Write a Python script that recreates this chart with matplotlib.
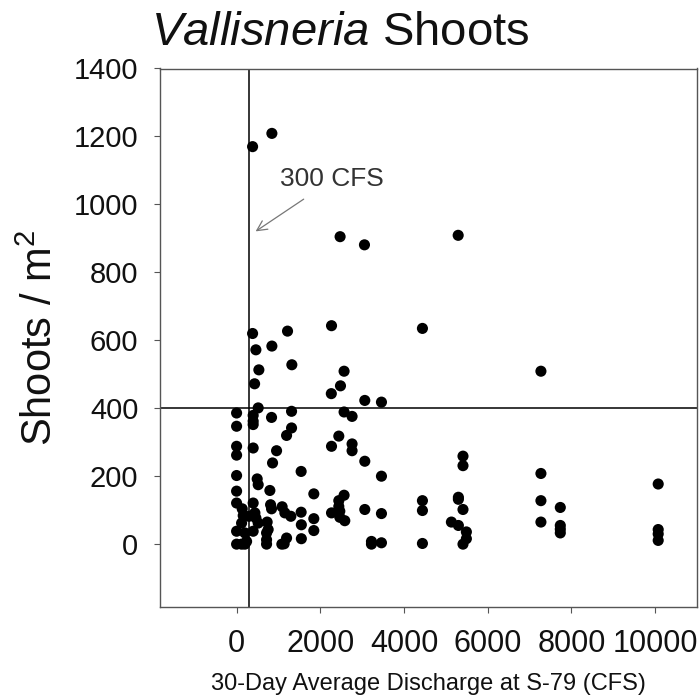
import matplotlib
matplotlib.use("Agg")
import matplotlib.pyplot as plt

plt.rcParams['font.family'] = ['Liberation Sans', 'DejaVu Sans']
plt.rcParams['mathtext.fontset'] = 'custom'
plt.rcParams['mathtext.rm'] = 'Liberation Sans'
plt.rcParams['mathtext.it'] = 'Liberation Sans:italic'
plt.rcParams['mathtext.default'] = 'regular'

# ---- data (30-day average discharge in CFS, shoots per m2) ----
discharge = [382, 843, 2473, 3055, 5294,
             382, 1217, 2268, 461, 843, 532, 1320, 2568, 430, 2482, 2263, 3063, 3461, 4440, 7271,
             516, 0, 396, 396, 835, 1313, 0, 396, 1313, 1194, 2568, 2759, 2442, 2268, 2759, 2759,
             3063, 0, 0, 396, 955, 859, 1542, 3461, 0, 492, 516, 795, 0, 1845, 2568, 2442, 2442,
             0, 396, 134, 812, 835, 1088, 1153, 1296, 1542, 437, 2268, 2466, 2466, 2585, 3063,
             3461, 1845, 1845, 1547, 1547, 119, 294, 516, 730, 0, 198, 396, 754, 1194, 0, 119,
             239, 716, 716, 1136, 3222, 3222, 3461, 1081, 158, 461, 716, 198,
             5409, 5409, 7271, 10073, 4440, 4440, 5299, 5299, 5409, 7271, 7734, 7271, 7734,
             7734, 7734, 5132, 5299, 5490, 5490, 5409, 4440, 10073, 10073, 10073]
shoots = [1170, 1209, 905, 881, 909,
          620, 627, 643, 572, 583, 513, 528, 509, 472, 466, 443, 423, 418, 635, 509,
          401, 386, 379, 362, 373, 391, 347, 352, 342, 320, 389, 376, 318, 288, 295, 275,
          244, 288, 262, 283, 275, 239, 214, 200, 202, 192, 175, 158, 156, 148, 144, 128, 111,
          121, 121, 104, 116, 104, 110, 92, 82, 94, 92, 92, 97, 79, 69, 102,
          90, 75, 40, 57, 16, 62, 82, 62, 65, 38, 33, 38, 43, 18, 0, 0,
          8, 13, 0, 1, 8, 0, 4, 0, 84, 77, 33, 0,
          259, 231, 208, 177, 128, 99, 138, 132, 102, 128, 108, 65, 55,
          44, 33, 65, 55, 36, 16, 0, 2, 43, 30, 11]

x_ticks = [0, 2000, 4000, 6000, 8000, 10000]
y_ticks = [0, 200, 400, 600, 800, 1000, 1200, 1400]
threshold_cfs = 300
threshold_shoots = 400

fig = plt.figure(figsize=(6.99, 7.00), dpi=100)
left, right, top, bottom = 160 / 699, 697 / 699, 1 - 68.5 / 700, 1 - 607 / 700
ax = fig.add_axes([left, bottom, right - left, top - bottom])

ax.scatter(discharge, shoots, s=64, color='black', edgecolors='none', zorder=3)

ax.axvline(threshold_cfs, color='black', lw=1.1, zorder=2)
ax.axhline(threshold_shoots, color='black', lw=1.1, zorder=2)

ax.set_xlim(-1830, 11000)
ax.set_ylim(-185, 1400)
ax.set_xticks(x_ticks)
ax.set_yticks(y_ticks)
ax.set_xticklabels([str(v) for v in x_ticks])
ax.set_yticklabels([str(v) for v in y_ticks])

for sp in ax.spines.values():
    sp.set_color('#555555')
    sp.set_linewidth(1.0)

ax.tick_params(axis='y', direction='out', length=4.5, width=0.8, color='#555555',
               labelsize=21, pad=11, labelcolor='#111111')
ax.tick_params(axis='x', direction='out', length=4.5, width=0.8, color='#555555',
               labelsize=22, pad=11, labelcolor='#111111')

ax.set_xlabel('30-Day Average Discharge at S-79 (CFS)', fontsize=17, color='#111111')
ax.xaxis.set_label_coords(0.5, -0.123)
ax.xaxis.label.set_va('top')

ax.set_ylabel('Shoots / m$^2$', fontsize=30, color='#111111')
ax.yaxis.set_label_coords(-0.185, 0.5)

ax.annotate('', xy=(399, 916), xytext=(1658, 1020),
            arrowprops=dict(arrowstyle='->', color='#777777', lw=0.9,
                            mutation_scale=18))
ax.text(1037, 1076, '300 CFS', fontsize=19, color='#333333', va='center', ha='left')

fig.text(151 / 699, 1 - 45 / 700, r'$\mathit{Vallisneria}$ Shoots', fontsize=34,
         color='#111111', ha='left', va='baseline')

fig.savefig('out.png', dpi=100)
